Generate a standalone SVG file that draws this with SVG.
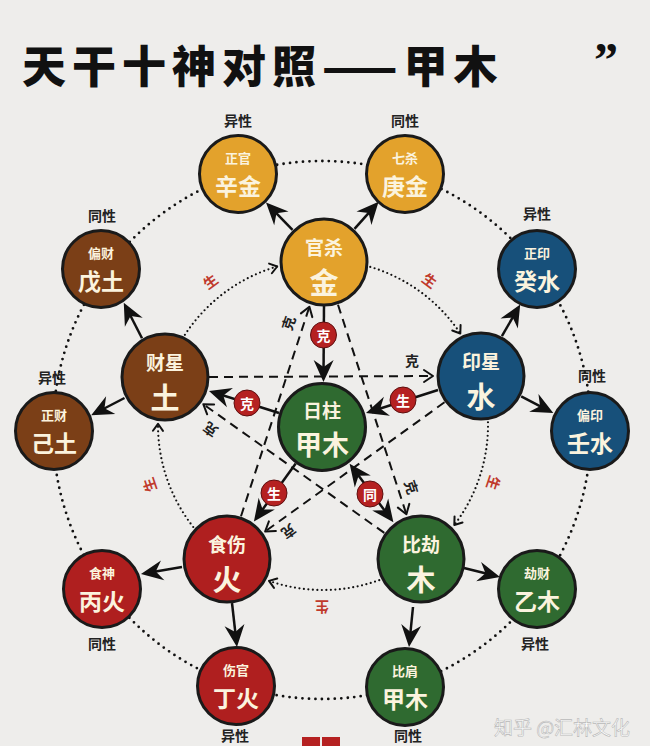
<svg xmlns="http://www.w3.org/2000/svg" width="650" height="746" viewBox="0 0 650 746">
<style>
text{font-family:"Noto Sans CJK SC","Noto Sans",sans-serif;text-anchor:middle;dominant-baseline:central}
.node{stroke:#1a1a1a;stroke-width:3}
.gold{fill:#E3A22C}.brown{fill:#7B3F17}.blue{fill:#17507A}.red{fill:#AF1F1F}.green{fill:#2F6A30}
.t1{fill:#FBF3DE;font-size:19px;font-weight:700}
.t2{fill:#FBF3DE;font-size:29px;font-weight:700}
.s1{fill:#FBF3DE;font-size:13px;font-weight:700}
.s2{fill:#FBF3DE;font-size:23px;font-weight:700}
.sex{fill:#222;font-size:14px;font-weight:700}
.badge circle{fill:#B52121;stroke:#5e0f0f;stroke-width:1}
.badge text{fill:#fff;font-size:14px;font-weight:700}
.ke{fill:#222;font-size:14px;font-weight:700}
.sheng{fill:#C0392B;font-size:14px;font-weight:700}
.arrow{stroke:#111;stroke-width:2.5;fill:none}
.dash{stroke:#111;stroke-width:2;stroke-dasharray:9 6;fill:none}
.dotout{stroke:#111;stroke-width:2.8;stroke-dasharray:0 6.5;stroke-linecap:round;fill:none}
.dotin{stroke:#111;stroke-width:2.2;stroke-dasharray:0 4.5;stroke-linecap:round;fill:none}
</style>
<defs>
<marker id="big" viewBox="-26 -12 28 24" refX="-6" refY="0" markerWidth="28" markerHeight="24" markerUnits="userSpaceOnUse" orient="auto-start-reverse">
<path d="M0,0 L-22,-10 L-15,0 L-22,10 Z" fill="#111"/>
</marker>
<marker id="chev" viewBox="-12 -8 14 16" refX="0" refY="0" markerWidth="14" markerHeight="16" markerUnits="userSpaceOnUse" orient="auto">
<path d="M-9,-6 L0,0 L-9,6" fill="none" stroke="#111" stroke-width="2" stroke-linecap="round" stroke-linejoin="round"/>
</marker>
<marker id="chev2" viewBox="-10 -7 12 14" refX="0" refY="0" markerWidth="12" markerHeight="14" markerUnits="userSpaceOnUse" orient="auto">
<path d="M-7,-5 L0,0 L-7,5" fill="none" stroke="#111" stroke-width="2" stroke-linecap="round" stroke-linejoin="round"/>
</marker>
</defs>
<rect width="650" height="746" fill="#EEEDEB"/>
<g id="title">
<text x="22" y="64" style="text-anchor:start;font-size:44px;font-weight:900;letter-spacing:6px;fill:#111">天干十神对照——甲木</text>
<text x="594" y="76" style="text-anchor:start;dominant-baseline:auto;font-family:'Liberation Serif',serif;font-size:48px;font-weight:700;fill:#111">”</text>
</g>
<g id="connectors">
<circle class="dotout" cx="322" cy="430" r="269"/>
<path class="dotin" d="M175.9,350.4 A165,165 0 0 1 277.2,266.5" marker-end="url(#chev2)"/>
<path class="dotin" d="M352.8,262.7 A165,165 0 0 1 460.3,333.5" marker-end="url(#chev2)"/>
<path class="dotin" d="M486.7,404.3 A165,165 0 0 1 454.3,525.0" marker-end="url(#chev2)"/>
<path class="dotin" d="M395.8,573.1 A165,165 0 0 1 269.0,580.9" marker-end="url(#chev2)"/>
<path class="dotin" d="M205.1,540.5 A165,165 0 0 1 158.0,423.8" marker-end="url(#chev2)"/>
<text class="sheng" transform="translate(210,281) rotate(-36.5)">生</text>
<text class="sheng" transform="translate(430,280) rotate(36.4)">生</text>
<text class="sheng" transform="translate(494,483) rotate(108.4)">生</text>
<text class="sheng" transform="translate(322,608) rotate(180)">生</text>
<text class="sheng" transform="translate(149,485) rotate(-108.7)">生</text>
<path class="dash" d="M209,377 L433,376" marker-end="url(#chev)"/>
<path class="dash" d="M444.5,402.3 L265.1,531.5" marker-end="url(#chev)"/>
<path class="dash" d="M241,516.2 L309.4,306.7" marker-end="url(#chev)"/>
<path class="dash" d="M338,304.8 L406.4,514.3" marker-end="url(#chev)"/>
<path class="dash" d="M384.3,532.9 L203.3,404.2" marker-end="url(#chev)"/>
<text class="ke" x="412" y="360">克</text>
<text class="ke" transform="translate(289,532) rotate(144.2)">克</text>
<text class="ke" transform="translate(288,323) rotate(-71.9)">克</text>
<text class="ke" transform="translate(412,487) rotate(71.9)">克</text>
<text class="ke" transform="translate(210,430) rotate(-144.6)">克</text>
<path class="arrow" d="M292.5,229.8 L270.2,206.9" marker-end="url(#big)"/>
<path class="arrow" d="M354.5,228.9 L374.6,206.3" marker-end="url(#big)"/>
<path class="arrow" d="M142,338.3 L126.5,308" marker-end="url(#big)"/>
<path class="arrow" d="M124.5,398 L96.5,412.5" marker-end="url(#big)"/>
<path class="arrow" d="M501.9,336.1 L517.2,309.7" marker-end="url(#big)"/>
<path class="arrow" d="M521.2,396.3 L548,410.3" marker-end="url(#big)"/>
<path class="arrow" d="M182,567 L146.9,573" marker-end="url(#big)"/>
<path class="arrow" d="M232,603 L236.3,641" marker-end="url(#big)"/>
<path class="arrow" d="M464,568 L494.2,575.5" marker-end="url(#big)"/>
<path class="arrow" d="M413,607 L409.6,641" marker-end="url(#big)"/>
<path class="arrow" d="M324,305 L323.5,376" marker-end="url(#big)"/>
<path class="arrow" d="M279,413 L214.7,392.8" marker-end="url(#big)"/>
<path class="arrow" d="M438,390 L371.7,411.2" marker-end="url(#big)"/>
<path class="arrow" d="M295.7,463.5 L257.4,516.7" marker-end="url(#big)"/>
<path class="arrow" d="M353.2,468.6 L389.8,517.4" marker-start="url(#big)" marker-end="url(#big)"/>
<g class="badge"><circle cx="323.5" cy="335" r="13"/><text x="323.5" y="335">克</text></g>
<g class="badge"><circle cx="247" cy="403" r="13"/><text x="247" y="403">克</text></g>
<g class="badge"><circle cx="403" cy="400" r="13"/><text x="403" y="400">生</text></g>
<g class="badge"><circle cx="274" cy="493" r="13"/><text x="274" y="493">生</text></g>
<g class="badge"><circle cx="370" cy="494" r="13"/><text x="370" y="494">同</text></g>
</g>
<g id="n-guansha"><circle class="node gold" cx="324" cy="262" r="43"/><text class="t1" x="324" y="246">官杀</text><text class="t2" x="324" y="281">金</text></g>
<g id="n-caixing"><circle class="node brown" cx="165" cy="377" r="43"/><text class="t1" x="165" y="361">财星</text><text class="t2" x="165" y="396">土</text></g>
<g id="n-yinxing"><circle class="node blue" cx="481" cy="376" r="43"/><text class="t1" x="481" y="360">印星</text><text class="t2" x="481" y="395">水</text></g>
<g id="n-shishang"><circle class="node red" cx="227" cy="559" r="43"/><text class="t1" x="227" y="543">食伤</text><text class="t2" x="227" y="578">火</text></g>
<g id="n-bijie"><circle class="node green" cx="421" cy="559" r="43"/><text class="t1" x="421" y="543">比劫</text><text class="t2" x="421" y="578">木</text></g>
<g id="n-rizhu"><circle class="node green" cx="322" cy="427" r="43.5"/><text class="t1" x="322" y="409">日柱</text><text class="t2" style="font-size:27px" x="322" y="443">甲木</text></g>
<g id="n-xinjin"><circle class="node gold" cx="238" cy="174" r="38.5"/><text class="s1" x="238" y="157">正官</text><text class="s2" x="238" y="185">辛金</text><text class="sex" x="238" y="120">异性</text></g>
<g id="n-gengjin"><circle class="node gold" cx="405" cy="174" r="38.5"/><text class="s1" x="405" y="157">七杀</text><text class="s2" x="405" y="185">庚金</text><text class="sex" x="405" y="120">同性</text></g>
<g id="n-wutu"><circle class="node brown" cx="101" cy="269" r="38.5"/><text class="s1" x="101" y="252">偏财</text><text class="s2" x="101" y="280">戊土</text><text class="sex" x="102" y="215">同性</text></g>
<g id="n-jitu"><circle class="node brown" cx="54" cy="431" r="38.5"/><text class="s1" x="54" y="414">正财</text><text class="s2" x="54" y="442">己土</text><text class="sex" x="52" y="377">异性</text></g>
<g id="n-guishui"><circle class="node blue" cx="537" cy="269" r="38.5"/><text class="s1" x="537" y="252">正印</text><text class="s2" x="537" y="280">癸水</text><text class="sex" x="537" y="213">异性</text></g>
<g id="n-renshui"><circle class="node blue" cx="590" cy="431" r="38.5"/><text class="s1" x="590" y="414">偏印</text><text class="s2" x="590" y="442">壬水</text><text class="sex" x="592" y="375">同性</text></g>
<g id="n-binghuo"><circle class="node red" cx="102" cy="589" r="38.5"/><text class="s1" x="102" y="572">食神</text><text class="s2" x="102" y="600">丙火</text><text class="sex" x="102" y="643">同性</text></g>
<g id="n-dinghuo"><circle class="node red" cx="236" cy="686" r="38.5"/><text class="s1" x="236" y="669">伤官</text><text class="s2" x="236" y="697">丁火</text><text class="sex" x="235" y="735">异性</text></g>
<g id="n-yimu"><circle class="node green" cx="537" cy="589" r="38.5"/><text class="s1" x="537" y="572">劫财</text><text class="s2" x="537" y="600">乙木</text><text class="sex" x="535" y="643">异性</text></g>
<g id="n-jiamu"><circle class="node green" cx="405" cy="687" r="38.5"/><text class="s1" x="405" y="670">比肩</text><text class="s2" x="405" y="698">甲木</text><text class="sex" x="408" y="735">同性</text></g>
<rect x="302" y="737" width="18" height="9" fill="#B52121"/>
<rect x="322" y="737" width="18" height="9" fill="#B52121"/>
<text x="562" y="726" style="font-size:19px;fill:#ffffff;fill-opacity:0.9;stroke:#b8b8b8;stroke-width:0.6">知乎 @汇林文化</text>
</svg>
